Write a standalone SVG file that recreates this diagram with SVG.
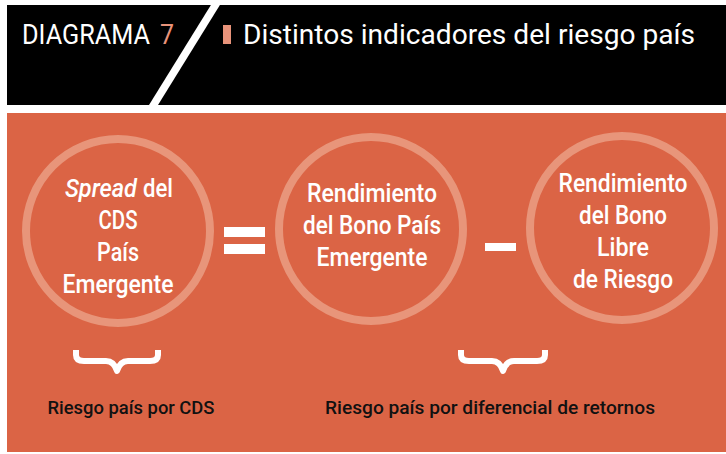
<svg xmlns="http://www.w3.org/2000/svg" width="726" height="454" viewBox="0 0 726 454">
<defs>
<style>
.ring{fill:none;stroke:#E8957A;stroke-width:8}
.ct{font-family:Roboto,"Liberation Sans",sans-serif;font-weight:500;font-size:26px;fill:#ffffff;text-anchor:middle}
.cl{font-family:Roboto,"Liberation Sans",sans-serif;font-weight:500;font-size:26px;fill:#ffffff}
.lbl{font-family:Roboto,"Liberation Sans",sans-serif;font-weight:500;font-size:19px;fill:#111111;text-anchor:middle}
.hd{font-family:Roboto,"Liberation Sans",sans-serif;font-size:27px;fill:#ffffff}
.brace{fill:none;stroke:#ffffff;stroke-width:6;stroke-linejoin:round}
.op{fill:#ffffff}
</style>
</defs>
<rect width="726" height="454" fill="#ffffff"/>
<g id="header">
<rect x="7" y="5" width="719" height="100" fill="#000000"/>
<polygon points="214,0 223,0 158,105 149,105" fill="#ffffff"/>
<text class="hd" x="22" y="44" textLength="128" lengthAdjust="spacingAndGlyphs">DIAGRAMA</text>
<text class="hd" x="160" y="44" style="fill:#E8937A" textLength="14" lengthAdjust="spacingAndGlyphs">7</text>
<rect x="223" y="25" width="8" height="19" fill="#E8937A"/>
<text class="hd" x="243" y="44" textLength="452" lengthAdjust="spacingAndGlyphs">Distintos indicadores del riesgo país</text>
</g>
<rect id="panel" x="7" y="113" width="719" height="339" fill="#DB6445"/>
<g id="node-cds">
<circle class="ring" cx="118" cy="231" r="92"/>
<text class="cl" x="65" y="197" font-style="italic" textLength="72" lengthAdjust="spacingAndGlyphs">Spread</text>
<text class="cl" x="143" y="197" textLength="30" lengthAdjust="spacingAndGlyphs">del</text>
<text class="ct" x="118" y="229" textLength="39" lengthAdjust="spacingAndGlyphs">CDS</text>
<text class="ct" x="118" y="261" textLength="42" lengthAdjust="spacingAndGlyphs">País</text>
<text class="ct" x="118" y="293" textLength="111" lengthAdjust="spacingAndGlyphs">Emergente</text>
</g>
<g id="node-bono-emergente">
<circle class="ring" cx="371" cy="229" r="92"/>
<text class="ct" x="372" y="202" textLength="130" lengthAdjust="spacingAndGlyphs">Rendimiento</text>
<text class="ct" x="372" y="234" textLength="138" lengthAdjust="spacingAndGlyphs">del Bono País</text>
<text class="ct" x="372" y="266" textLength="111" lengthAdjust="spacingAndGlyphs">Emergente</text>
</g>
<g id="node-bono-libre">
<circle class="ring" cx="622" cy="228" r="92"/>
<text class="ct" x="623" y="192" textLength="129" lengthAdjust="spacingAndGlyphs">Rendimiento</text>
<text class="ct" x="623" y="224" textLength="88" lengthAdjust="spacingAndGlyphs">del Bono</text>
<text class="ct" x="623" y="256" textLength="52" lengthAdjust="spacingAndGlyphs">Libre</text>
<text class="ct" x="623" y="288" textLength="100" lengthAdjust="spacingAndGlyphs">de Riesgo</text>
</g>
<g id="connectors">
<rect class="op" x="224" y="227" width="41" height="10"/>
<rect class="op" x="224" y="244" width="41" height="10"/>
<rect class="op" x="485" y="243" width="31" height="8"/>
<path class="brace" d="M76 350 V355 Q76 361 84 361 H106 Q114 361 117 371 Q120 361 128 361 H150 Q158 361 158 355 V350"/>
<path class="brace" d="M461 350 V355 Q461 361 469 361 H492 Q500 361 503 371 Q506 361 514 361 H537 Q545 361 545 355 V350"/>
</g>
<g id="label-cds">
<text class="lbl" x="131" y="414" textLength="167" lengthAdjust="spacingAndGlyphs">Riesgo país por CDS</text>
</g>
<g id="label-diferencial">
<text class="lbl" x="490" y="414" textLength="330" lengthAdjust="spacingAndGlyphs">Riesgo país por diferencial de retornos</text>
</g>
</svg>
